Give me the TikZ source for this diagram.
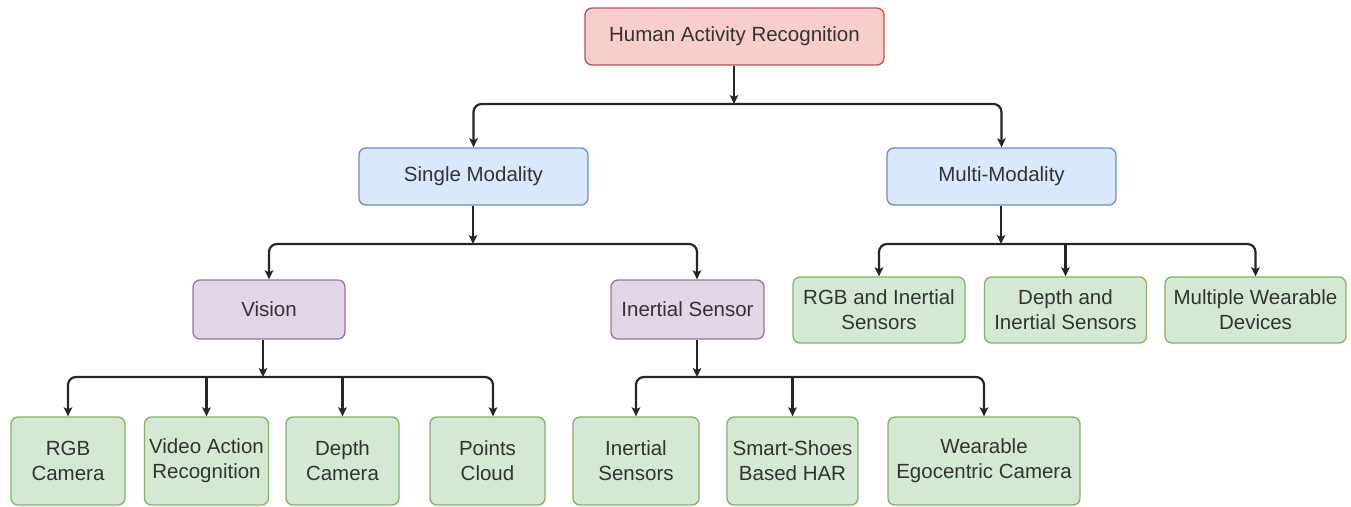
\documentclass[tikz,border=0pt]{standalone}
\usepackage{fontspec}
\setmainfont{Liberation Sans}
\usetikzlibrary{arrows.meta}
\definecolor{lineGray}{HTML}{262626}
\definecolor{textGray}{HTML}{333333}
\definecolor{redFill}{HTML}{F8CECC}
\definecolor{redLine}{HTML}{B85450}
\definecolor{blueFill}{HTML}{DAE8FC}
\definecolor{blueLine}{HTML}{6C8EBF}
\definecolor{purpleFill}{HTML}{E1D5E7}
\definecolor{purpleLine}{HTML}{9673A6}
\definecolor{greenFill}{HTML}{D5E8D4}
\definecolor{greenLine}{HTML}{82B366}

\begin{document}
\begin{tikzpicture}
[x=1pt,y=-1pt,
  darkArrow/.style={-{Stealth[length=9pt,width=8.5pt,inset=2pt]},line width=2.2pt,color=lineGray,rounded corners=8pt},%
  nodeDecorate/.style={shape=rectangle,rounded corners=7pt,draw,line width=1.3pt,align=center,inner sep=0pt,%
    text=textGray,font=\fontsize{20.5}{25}\selectfont},%
  redDecorate/.style={nodeDecorate,fill=redFill,draw=redLine},%
  blueDecorate/.style={nodeDecorate,fill=blueFill,draw=blueLine},%
  purpleDecorate/.style={nodeDecorate,fill=purpleFill,draw=purpleLine},%
  greenDecorate/.style={nodeDecorate,fill=greenFill,draw=greenLine}]
\useasboundingbox (0,0) rectangle (1351,506);
%% nodes or boxes
\node (root) at (734.5,36.5) [redDecorate,minimum width=299pt,minimum height=57pt] {Human Activity Recognition};
\foreach \nodename/\x/\nodetext in {single/473.5/Single Modality, multi/1001.5/Multi-Modality}
{
  \node (\nodename) at (\x,176.5) [blueDecorate,minimum width=229pt,minimum height=57pt] {\nodetext};
}
\foreach \nodename/\x/\w/\nodetext in {vision/269/152/Vision, inertial/687.5/153/Inertial Sensor}
{
  \node (\nodename) at (\x,309.5) [purpleDecorate,minimum width=\w pt,minimum height=59pt] {\nodetext};
}
\foreach \nodename/\x/\w/\nodetext in {rgbinertial/879/172/{RGB and Inertial\\Sensors},
  depthinertial/1065.5/162/{Depth and\\Inertial Sensors}, wearables/1255.5/181/{Multiple Wearable\\Devices}}
{
  \node (\nodename) at (\x,310) [greenDecorate,minimum width=\w pt,minimum height=66pt] {\nodetext};
}
\foreach \nodename/\x/\w/\nodetext in {rgbcam/68/114/{RGB\\Camera}, video/206.5/124/{Video Action\\Recognition},
  depthcam/342.5/113/{Depth\\Camera}, points/487.5/115/{Points\\Cloud}, inertials/636/126/{Inertial\\Sensors},
  shoes/792.5/131/{Smart-Shoes\\Based HAR}, egocam/984/192/{Wearable\\Egocentric Camera}}
{
  \node (\nodename) at (\x,461) [greenDecorate,minimum width=\w pt,minimum height=88pt] {\nodetext};
}
%% bus junctions
\coordinate (rootBus) at (734,104);
\coordinate (singleBus) at (473,244);
\coordinate (multiBus) at (1001,244);
\coordinate (visionBus) at (263,377);
\coordinate (inertialBus) at (697,377);
%% arrows into the buses
\draw[darkArrow] (root.south -| rootBus) -- (rootBus);
\draw[darkArrow] (single.south -| singleBus) -- (singleBus);
\draw[darkArrow] (multi.south -| multiBus) -- (multiBus);
\draw[darkArrow] (vision.south -| visionBus) -- (visionBus);
\draw[darkArrow] (inertial.south -| inertialBus) -- (inertialBus);
%% arrows out of the buses
\foreach \startnode/\endnode in {rootBus/single, rootBus/multi, singleBus/vision,
  multiBus/rgbinertial, multiBus/wearables, visionBus/rgbcam, inertialBus/inertials, inertialBus/egocam}
{
  \draw[darkArrow] (\startnode) -| (\endnode.north);
}
\draw[darkArrow] (singleBus) -| ([xshift=9.5pt]inertial.north);
\draw[darkArrow] (visionBus) -| ([xshift=5.5pt]points.north);
\foreach \startnode/\endnode in {multiBus/depthinertial, visionBus/video, visionBus/depthcam, inertialBus/shoes}
{
  \draw[darkArrow] (\endnode.north |- \startnode) -- (\endnode.north);
}
\end{tikzpicture}
\end{document}
